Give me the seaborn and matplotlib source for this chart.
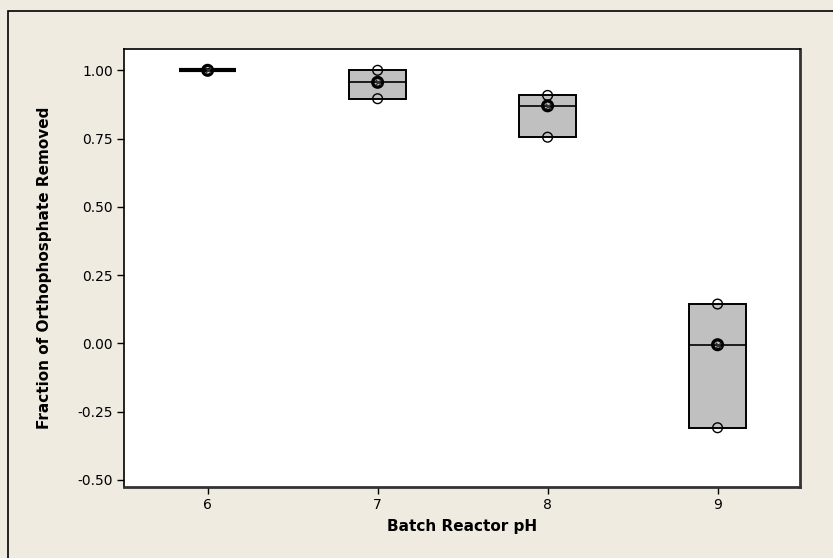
import numpy as np
import pandas as pd
import matplotlib
matplotlib.use("Agg")
import matplotlib.pyplot as plt
import seaborn as sns
from matplotlib.patches import Rectangle

# fraction of orthophosphate removed, three reactors per pH
ph_levels = ["6", "7", "8", "9"]
ph6 = [1.0, 1.0, 1.0]
ph7 = [1.0, 0.956, 0.896]
ph8 = [0.908, 0.870, 0.755]
ph9 = [0.144, -0.005, -0.309]

groups = [ph6, ph7, ph8, ph9]
df = pd.DataFrame({
    "pH": np.repeat(ph_levels, [len(g) for g in groups]),
    "removed": np.concatenate(groups),
})

sns.set_theme(style="white")
plt.rcParams["font.family"] = ["DejaVu Sans"]
plt.rcParams["axes.unicode_minus"] = False

bg = "#EFEBE1"
fig = plt.figure(figsize=(8.33, 5.58), dpi=100, facecolor=bg)
ax = fig.add_axes([124 / 833, 71 / 558, 676 / 833, 438 / 558])
ax.set_facecolor("white")


# Minitab style quartiles: position (n+1)/4 and 3(n+1)/4
def minitab_q(vals, p):
    v = np.sort(vals)
    pos = p * (len(v) + 1) - 1
    pos = min(max(pos, 0), len(v) - 1)
    lo = int(np.floor(pos))
    hi = min(lo + 1, len(v) - 1)
    return v[lo] + (pos - lo) * (v[hi] - v[lo])


stats = []
for g in groups:
    q1 = minitab_q(g, 0.25)
    q3 = minitab_q(g, 0.75)
    stats.append(dict(med=np.median(g), q1=q1, q3=q3, whislo=q1, whishi=q3, fliers=[]))

ax.bxp(stats, positions=range(len(groups)), widths=0.335, patch_artist=True,
       showcaps=False,
       boxprops=dict(facecolor="#C0C0C0", edgecolor="black", linewidth=1.4),
       medianprops=dict(color="black", linewidth=1.2),
       whiskerprops=dict(linewidth=0))

# a box with zero height shows as a heavy bar
for patch, s in zip(ax.patches, stats):
    if s["q1"] == s["q3"]:
        patch.set_linewidth(3)

# individual observations
n0 = len(ax.collections)
sns.stripplot(data=df, x="pH", y="removed", order=ph_levels, jitter=False,
              color="black", edgecolor="black", linewidth=1.0, size=7, ax=ax, zorder=5)

# symbol at the centre of each group
centre = df.groupby("pH")["removed"].median().reset_index()
sns.stripplot(data=centre, x="pH", y="removed", order=ph_levels, jitter=False,
              marker="o", size=7, linewidth=2.4, edgecolor="black", color="black", ax=ax, zorder=6)
for coll in ax.collections[n0:]:
    coll.set_facecolor("none")
sns.stripplot(data=centre, x="pH", y="removed", order=ph_levels, jitter=False,
              marker="x", size=4, linewidth=1.0, color="#333333", ax=ax, zorder=7)

ax.set_xlim(-0.492, 3.485)
ax.set_ylim(-0.526, 1.078)
ax.set_yticks(np.arange(-0.5, 1.01, 0.25))
ax.set_yticklabels([f"{t:.2f}" for t in np.arange(-0.5, 1.01, 0.25)])
ax.set_xticks(range(4))
ax.set_xticklabels(ph_levels)
ax.tick_params(axis="both", direction="out", length=5, width=1, color="black",
               labelsize=10, labelcolor="black", left=True, bottom=True, pad=3)
for s in ax.spines.values():
    s.set_color("black")
    s.set_linewidth(1.2)
ax.spines["bottom"].set_linewidth(2)
ax.spines["right"].set_linewidth(2)
ax.spines["bottom"].set_color("#333333")
ax.spines["right"].set_color("#333333")

ax.set_xlabel("Batch Reactor pH", fontsize=11, fontweight="bold", color="black", labelpad=5)
ax.set_ylabel("Fraction of Orthophosphate Removed", fontsize=11, fontweight="bold",
              color="black", labelpad=18)

# outer frame of the graph window
fig.patches.append(Rectangle((8 / 833, -0.1), 1.2, 1.1 - 11 / 558, transform=fig.transFigure,
                             fill=False, edgecolor="black", linewidth=1.2))

fig.savefig("out.png", dpi=100, facecolor=bg)
